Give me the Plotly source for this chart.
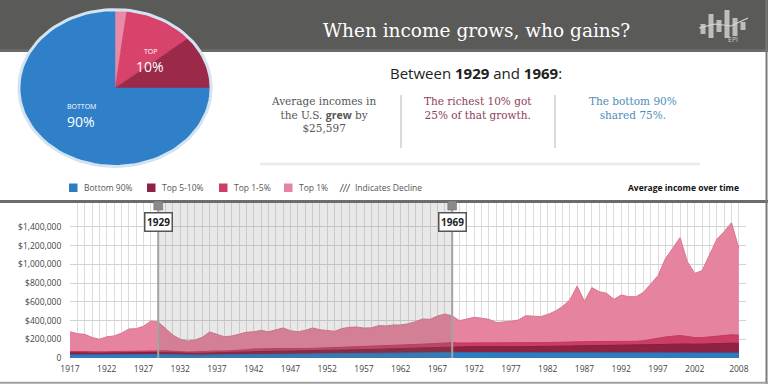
import math
import plotly.graph_objects as go

W, H = 768, 384

# ---------------- data ----------------
years = list(range(1917, 2009))

top1 = [281, 260, 253, 220, 200, 226, 236, 265, 310, 313, 340, 395, 385, 317, 246, 200, 180, 192, 221, 278,
        253, 228, 235, 256, 275, 280, 295, 280, 300, 321, 292, 280, 295, 321, 302, 290, 285, 315, 328, 331,
        320, 322, 346, 342, 353, 353, 365, 388, 417, 413, 449, 470, 449, 399, 417, 435, 425, 413, 378, 383,
        392, 406, 452, 447, 442, 465, 500, 550, 620, 769, 605, 752, 709, 691, 627, 673, 655, 655, 700, 790,
        880, 1060, 1170, 1286, 1029, 905, 933, 1100, 1269, 1350, 1446, 1172]
top1_5 = [70, 72, 70, 66, 63, 66, 69, 71, 74, 75, 77, 80, 80, 77, 72, 66, 64, 66, 70, 75,
          76, 74, 77, 81, 88, 96, 100, 101, 101, 102, 100, 101, 101, 103, 106, 108, 110, 112, 115, 118,
          119, 120, 125, 127, 130, 134, 138, 143, 148, 152, 157, 162, 164, 160, 160, 163, 163, 159, 157, 158,
          160, 161, 163, 164, 164, 165, 167, 170, 172, 175, 174, 176, 176, 175, 173, 175, 176, 178, 185, 195,
          210, 225, 235, 240, 230, 218, 218, 225, 235, 242, 248, 244]
top5_10 = [55, 57, 55, 52, 50, 52, 54, 55, 57, 57, 58, 60, 60, 58, 55, 50, 48, 50, 52, 55,
           56, 55, 57, 60, 64, 67, 70, 71, 72, 73, 74, 75, 76, 78, 80, 82, 84, 85, 87, 89,
           90, 91, 94, 95, 97, 100, 102, 105, 108, 111, 114, 118, 121, 120, 120, 122, 122, 120, 118, 119,
           120, 121, 121, 121, 121, 122, 124, 126, 128, 130, 131, 132, 132, 132, 131, 132, 133, 134, 136, 138,
           141, 145, 148, 152, 150, 148, 148, 150, 152, 155, 158, 157]
bottom90 = [33, 34, 33, 31, 29, 31, 33, 34, 35, 35, 36, 37, 37, 35, 33, 29, 28, 29, 30, 32,
            33, 32, 33, 35, 38, 41, 44, 45, 45, 44, 43, 43, 43, 44, 45, 46, 47, 47, 48, 49,
            49, 49, 50, 50, 51, 52, 53, 54, 55, 56, 57, 58, 59, 58, 58, 59, 59, 57, 56, 56,
            57, 57, 57, 55, 54, 53, 53, 54, 54, 55, 55, 55, 55, 54, 53, 53, 53, 53, 54, 54,
            55, 57, 58, 59, 58, 56, 55, 55, 55, 55, 55, 53]

x_tick_years = [1917, 1922, 1927, 1932, 1937, 1942, 1947, 1952, 1957, 1962, 1967, 1972, 1977,
                1982, 1987, 1992, 1997, 2002, 2008]
y_tick_vals = [0, 200000, 400000, 600000, 800000, 1000000, 1200000, 1400000]
y_tick_text = ["0", "$200,000", "$400,000", "$600,000", "$800,000", "$1,000,000", "$1,200,000", "$1,400,000"]

period = [1929, 1969]

pie_labels = ["Top 1%", "Top 1-5%", "Top 5-10%", "Bottom 90%"]
pie_shares = [2, 12, 11, 75]

series_names = ["Top 1%", "Top 1-5%", "Top 5-10%", "Bottom 90%"]
series_values = [top1, top1_5, top5_10, bottom90]
series_colors = ["#e6839e", "#cd3d65", "#8e2243", "#2e7dc0"]
line_colors = ["#d97690", "#c23a60", "#84203e", "#2a73b3"]

# ---------------- helpers ----------------
def px(x):
    return x / W

def py(y):
    return 1 - y / H

fig = go.Figure()

# ---------------- main area chart ----------------
for name, vals, fc, lc in zip(series_names, series_values, series_colors, line_colors):
    fig.add_trace(go.Scatter(
        x=years, y=[v * 1000 for v in vals], mode="lines", name=name,
        fill="tozeroy", fillcolor=fc, line=dict(color=lc, width=1),
        hoverinfo="skip", showlegend=False, xaxis="x", yaxis="y"))

# ---------------- pie (ellipse) ----------------
cum = 0
total = sum(pie_shares)
pie_colors = ["#e98aa6", "#d8436c", "#9b2949", "#2f80c8"]
for lab, s, c in zip(pie_labels, pie_shares, pie_colors):
    a0 = cum / total
    a1 = (cum + s) / total
    cum += s
    n = max(3, int(s * 2))
    xs, ys = [0], [0]
    for i in range(n + 1):
        t = a0 + (a1 - a0) * i / n
        ang = math.radians(90 - 360 * t)
        xs.append(math.cos(ang))
        ys.append(math.sin(ang))
    xs.append(0)
    ys.append(0)
    fig.add_trace(go.Scatter(x=xs, y=ys, mode="lines", fill="toself", fillcolor=c,
                             line=dict(color=c, width=0.5), hoverinfo="skip",
                             showlegend=False, xaxis="x2", yaxis="y2"))
ring_x = [math.cos(math.radians(i * 3)) for i in range(121)]
ring_y = [math.sin(math.radians(i * 3)) for i in range(121)]
fig.add_trace(go.Scatter(x=ring_x, y=ring_y, mode="lines", line=dict(color="#d3e3f0", width=3),
                         hoverinfo="skip", showlegend=False, xaxis="x2", yaxis="y2"))

shapes = []
annotations = []

# header band
shapes.append(dict(type="rect", xref="paper", yref="paper", x0=0, x1=1, y0=py(52), y1=1,
                   fillcolor="#5a5a58", line=dict(width=0), layer="below"))
shapes.append(dict(type="rect", xref="paper", yref="paper", x0=0, x1=1, y0=py(52), y1=py(49),
                   fillcolor="#6a6a68", line=dict(width=0), layer="below"))
# faint shadow line under text block
shapes.append(dict(type="line", xref="paper", yref="paper", x0=px(260), x1=px(700), y0=py(164), y1=py(164),
                   line=dict(color="#ececec", width=3), layer="below"))
# separators
for sx in [401, 555]:
    shapes.append(dict(type="line", xref="paper", yref="paper", x0=px(sx), x1=px(sx), y0=py(95), y1=py(148),
                       line=dict(color="#b5b5b5", width=1)))

# EPI logo bars
for bx, top, bot in [(703, 24, 34), (711, 14, 38), (719, 20, 32), (727, 10, 38), (735, 18, 36), (743, 22, 30)]:
    shapes.append(dict(type="rect", xref="paper", yref="paper", x0=px(bx - 2.5), x1=px(bx + 2.5),
                       y0=py(bot), y1=py(top), fillcolor="#bdbdbd", line=dict(width=0)))
shapes.append(dict(type="path", xref="paper", yref="paper",
                   path=f"M {px(699)},{py(28)} L {px(715)},{py(24)} L {px(731)},{py(26)} L {px(748)},{py(18)}",
                   line=dict(color="#d8d8d8", width=1.2)))

# chart top border
shapes.append(dict(type="line", xref="paper", yref="paper", x0=0, x1=1, y0=py(201.5), y1=py(201.5),
                   line=dict(color="#6c6c6c", width=3)))
# frame right & bottom
shapes.append(dict(type="line", xref="paper", yref="paper", x0=px(766.5), x1=px(766.5), y0=0, y1=1,
                   line=dict(color="#7a7a7a", width=2)))
shapes.append(dict(type="line", xref="paper", yref="paper", x0=0, x1=1, y0=py(382.8), y1=py(382.8),
                   line=dict(color="#a0a0a0", width=2)))

# shaded period
shapes.append(dict(type="rect", xref="x", yref="paper", x0=period[0], x1=period[1], y0=py(358), y1=py(203),
                   fillcolor="rgba(110,110,110,0.16)", line=dict(width=0), layer="above"))
for yr in period:
    shapes.append(dict(type="line", xref="x", yref="paper", x0=yr, x1=yr, y0=py(358), y1=py(203),
                       line=dict(color="#a3a3a3", width=2), layer="above"))
    shapes.append(dict(type="rect", xref="x", yref="paper", x0=yr - 0.6, x1=yr + 0.6, y0=py(210), y1=py(201),
                       fillcolor="#8a8a8a", line=dict(color="#6a6a6a", width=0.5), layer="above"))
    annotations.append(dict(x=yr, y=py(222), xref="x", yref="paper", text=f"<b>{yr}</b>", showarrow=False,
                            font=dict(family="Open Sans", size=10, color="#222"), bgcolor="white",
                            bordercolor="#555", borderwidth=1.5, borderpad=1.5, xanchor="center", yanchor="middle"))

# legend
legend_items = [(69, "#2e7dc0", "Bottom 90%"), (147, "#8e2243", "Top 5-10%"),
                (219, "#cd3d65", "Top 1-5%"), (284, "#e6839e", "Top 1%")]
for lx, c, t in legend_items:
    shapes.append(dict(type="rect", xref="paper", yref="paper", x0=px(lx), x1=px(lx + 8.5),
                       y0=py(192), y1=py(183.5), fillcolor=c, line=dict(width=0)))
    annotations.append(dict(x=px(lx + 13), y=py(188), xref="paper", yref="paper", text=t, showarrow=False,
                            xanchor="left", yanchor="middle", font=dict(family="Open Sans", size=8.5, color="#555")))
# hatch icon
for k in range(3):
    o = k * 3.2
    shapes.append(dict(type="line", xref="paper", yref="paper", x0=px(340 + o), x1=px(343.5 + o),
                       y0=py(192), y1=py(184), line=dict(color="#888", width=1.2)))
annotations.append(dict(x=px(353), y=py(188), xref="paper", yref="paper", text="Indicates Decline", showarrow=False,
                        xanchor="left", yanchor="middle", font=dict(family="Open Sans", size=8.5, color="#555")))
annotations.append(dict(x=px(741), y=py(188), xref="paper", yref="paper", text="<b>Average income over time</b>",
                        showarrow=False, xanchor="right", yanchor="middle",
                        font=dict(family="Open Sans", size=8.5, color="#111")))

# header texts
annotations.append(dict(x=px(476), y=py(31), xref="paper", yref="paper", text="When income grows, who gains?",
                        showarrow=False, xanchor="center", yanchor="middle",
                        font=dict(family="DejaVu Serif", size=18.5, color="white")))
annotations.append(dict(x=px(733), y=py(40), xref="paper", yref="paper", text="EPI", showarrow=False,
                        xanchor="center", yanchor="middle", font=dict(family="Open Sans", size=7, color="#d0d0d0")))
annotations.append(dict(x=px(476), y=py(72.5), xref="paper", yref="paper",
                        text="Between <b>1929</b> and <b>1969</b>:", showarrow=False, xanchor="center",
                        yanchor="middle", font=dict(family="Open Sans", size=15, color="#222")))
annotations.append(dict(x=px(323), y=py(93), xref="paper", yref="paper",
                        text="Average incomes in<br>the U.S. <span style='font-family:Open Sans'><b>grew</b></span> by<br>$25,597",
                        showarrow=False, xanchor="center", yanchor="top", align="center",
                        font=dict(family="DejaVu Serif", size=10.5, color="#555")))
annotations.append(dict(x=px(478), y=py(93), xref="paper", yref="paper",
                        text="The richest 10% got<br>25% of that growth.",
                        showarrow=False, xanchor="center", yanchor="top", align="center",
                        font=dict(family="DejaVu Serif", size=10.5, color="#8e3d58")))
annotations.append(dict(x=px(633), y=py(93), xref="paper", yref="paper",
                        text="The bottom 90%<br>shared 75%.",
                        showarrow=False, xanchor="center", yanchor="top", align="center",
                        font=dict(family="DejaVu Serif", size=10.5, color="#4d8dbb")))

# pie labels
for lx, ly, t, sz in [(151, 51.5, "TOP", 7), (150, 67, "10%", 14), (81, 106.5, "BOTTOM", 7), (81, 122, "90%", 14)]:
    annotations.append(dict(x=px(lx), y=py(ly), xref="paper", yref="paper", text=t, showarrow=False,
                            xanchor="center", yanchor="middle", borderpad=0,
                            font=dict(family="Open Sans", size=sz, color="white")))

fig.update_layout(
    width=W, height=H, margin=dict(l=0, r=0, t=0, b=0, autoexpand=False),
    paper_bgcolor="white", plot_bgcolor="white", showlegend=False,
    xaxis=dict(domain=[px(70), px(746.2)], range=[1917, 2009], tickmode="array", tickvals=x_tick_years,
               ticktext=[str(v) for v in x_tick_years], showgrid=True, gridcolor="#dcdcdc", gridwidth=1,
               minor=dict(tickmode="linear", tick0=1917, dtick=1, showgrid=True, gridcolor="#dcdcdc", gridwidth=1),
               ticks="outside", ticklen=3, tickcolor="white", zeroline=False, showline=False, automargin=False,
               tickfont=dict(family="Open Sans", size=8.5, color="#444"), fixedrange=True),
    yaxis=dict(domain=[py(358), py(203)], range=[0, 1656000], tickmode="array", tickvals=y_tick_vals,
               ticktext=y_tick_text, showgrid=True, gridcolor="#d2d2d2", gridwidth=1, zeroline=False,
               ticks="outside", ticklen=6, tickcolor="white", automargin=False,
               tickfont=dict(family="Open Sans", size=8.5, color="#444"), fixedrange=True),
    xaxis2=dict(domain=[px(17), px(213)], range=[-1.02, 1.02], visible=False, fixedrange=True, automargin=False),
    yaxis2=dict(domain=[py(168), py(8)], range=[-1.02, 1.02], visible=False, fixedrange=True, automargin=False),
    shapes=shapes, annotations=annotations, hovermode=False,
)

fig.write_html("out.html", config={"displayModeBar": False},
               post_script="document.body.style.margin='0';document.body.style.overflow='hidden';")
